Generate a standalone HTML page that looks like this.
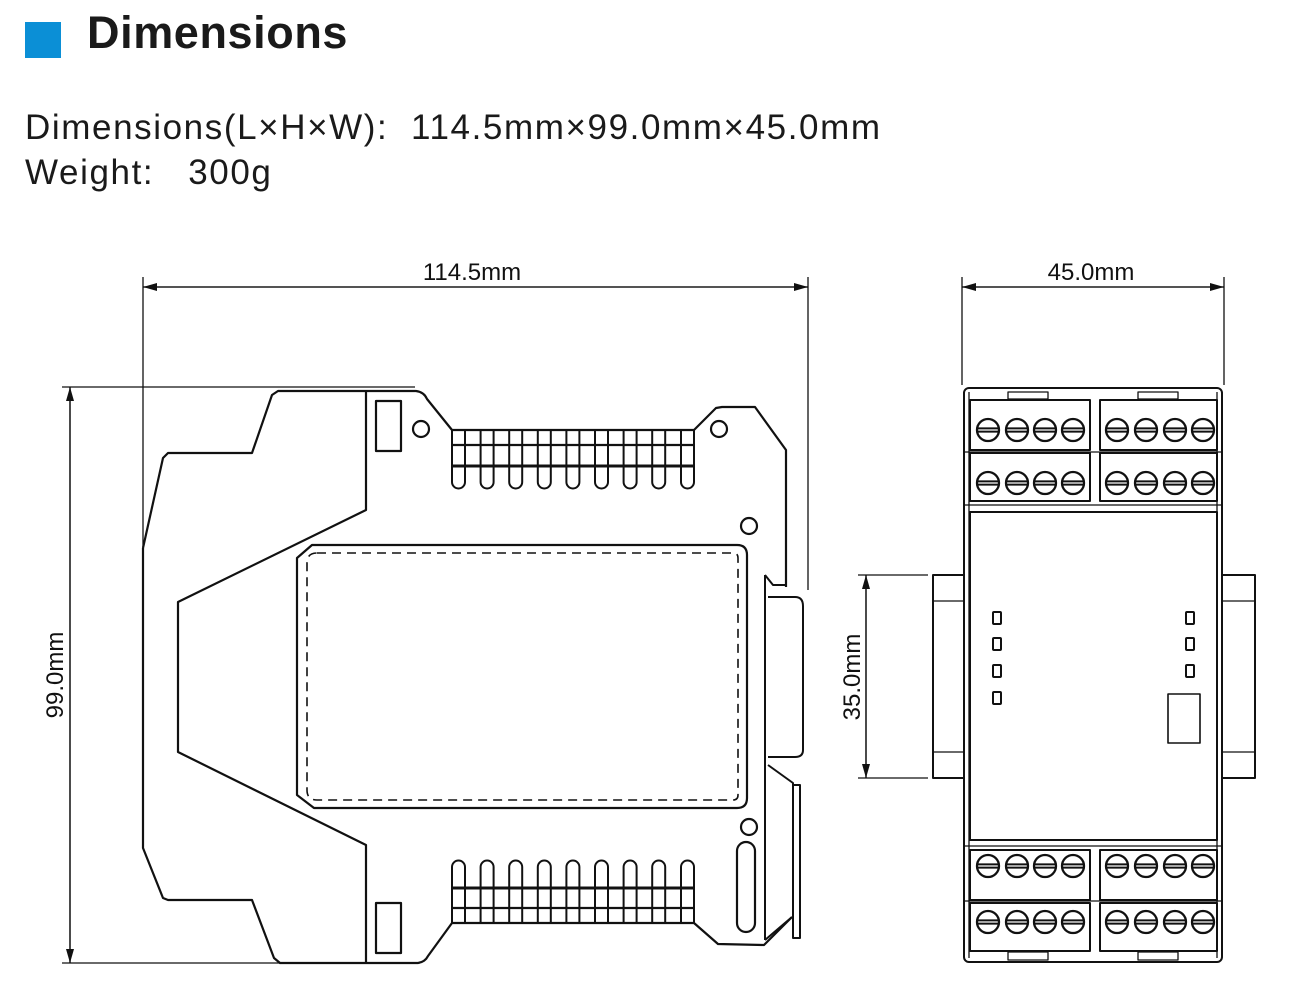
<!DOCTYPE html>
<html><head><meta charset="utf-8"><style>
html,body{margin:0;padding:0;background:#fff;}
body{width:1297px;height:999px;position:relative;overflow:hidden;font-family:"Liberation Sans",sans-serif;color:#1a1a1a;}
.sq{position:absolute;left:25px;top:22px;width:36px;height:36px;background:#0b8fd6;}
h1{position:absolute;left:87px;top:7px;margin:0;font-size:45px;font-weight:bold;letter-spacing:0.6px;}
.t{position:absolute;left:25px;font-size:35px;margin:0;white-space:pre;letter-spacing:1.6px;}
svg{position:absolute;left:0;top:0;}
</style></head><body>
<div class="sq"></div>
<h1>Dimensions</h1>
<div class="t" style="top:108px">Dimensions(L×H×W):  114.5mm×99.0mm×45.0mm</div>
<div class="t" style="top:153px">Weight:   300g</div>
<svg width="1297" height="999" viewBox="0 0 1297 999">
<defs>
<g id="sc"><circle r="11" fill="#fff" stroke="#111" stroke-width="2.3"/><line x1="-11" y1="-1.6" x2="11" y2="-1.6" stroke="#111" stroke-width="2"/><line x1="-11" y1="1.6" x2="11" y2="1.6" stroke="#111" stroke-width="2"/></g>
<path id="ft" d="M0 430 V482 a6.5 6.5 0 0 0 13 0 V430" fill="none" stroke="#111" stroke-width="2"/>
<path id="fb" d="M0 923 V867 a6.5 6.5 0 0 1 13 0 V923" fill="none" stroke="#111" stroke-width="2"/>
<marker id="ar" markerWidth="14" markerHeight="8" refX="14" refY="4" orient="auto" markerUnits="userSpaceOnUse"><path d="M0 0 L14 4 L0 8 Z" fill="#111"/></marker>
</defs>
<g stroke="#111" fill="none" stroke-width="1.3">
<line x1="143" y1="277" x2="143" y2="548"/><line x1="808" y1="277" x2="808" y2="590"/>
<line x1="143" y1="287" x2="808" y2="287" marker-end="url(#ar)"/><line x1="808" y1="287" x2="143" y2="287" marker-end="url(#ar)"/>
<line x1="62" y1="387" x2="415" y2="387"/><line x1="62" y1="963" x2="420" y2="963"/>
<line x1="70" y1="387" x2="70" y2="963" marker-end="url(#ar)"/><line x1="70" y1="963" x2="70" y2="387" marker-end="url(#ar)"/>
<line x1="962" y1="277" x2="962" y2="385"/><line x1="1224" y1="277" x2="1224" y2="385"/>
<line x1="962" y1="287" x2="1224" y2="287" marker-end="url(#ar)"/><line x1="1224" y1="287" x2="962" y2="287" marker-end="url(#ar)"/>
<line x1="858" y1="575" x2="928" y2="575"/><line x1="858" y1="778" x2="928" y2="778"/>
<line x1="866" y1="575" x2="866" y2="778" marker-end="url(#ar)"/><line x1="866" y1="778" x2="866" y2="575" marker-end="url(#ar)"/>
</g>
<g stroke="#111" fill="none" stroke-width="2.2" stroke-linejoin="round">
<path d="M143 548 L163 458 L168 453 L252 453 L272 395 L278 391 L416 391 Q424 392 427 399 L452 430 L694 430 L716 408 L722 407 L755 407 L786 450 L786 587"/>
<path d="M143 548 V848 L163 898 L168 900 L252 900 L274 958 L280 963 L418 963 Q425 962 428 956 L452 923 L694 923 L718 944 L764 945 L792 917"/>
<path d="M366 392 V510 L178 602 V752 L366 845 V963"/>
<rect x="376" y="401" width="25" height="50"/><rect x="376" y="903" width="25" height="50"/>
<circle cx="421" cy="429" r="8"/><circle cx="719" cy="429" r="8"/><circle cx="749" cy="526" r="8"/><circle cx="749" cy="827" r="8"/>
<rect x="737" y="842" width="18" height="90" rx="9"/>
<path d="M312 545 H737 Q747 545 747 555 V798 Q747 808 737 808 H314 L297 795 V558 Z"/>
<path d="M317 553 H733 Q738 553 738 558 V795 Q738 800 733 800 H317 Q307 800 307 790 V563 Q307 553 317 553 Z" stroke-width="1.6" stroke-dasharray="9 6"/>
<line x1="452" y1="445" x2="694" y2="445"/><line x1="452" y1="466" x2="694" y2="466" stroke-width="3"/>
<line x1="452" y1="908" x2="694" y2="908"/><line x1="452" y1="888" x2="694" y2="888" stroke-width="3"/>
</g>
<g fill="#fff">
<use href="#ft" x="452"/><use href="#ft" x="480.6"/><use href="#ft" x="509.2"/><use href="#ft" x="537.8"/><use href="#ft" x="566.4"/><use href="#ft" x="595"/><use href="#ft" x="623.6"/><use href="#ft" x="652.2"/><use href="#ft" x="681"/>
<use href="#fb" x="452"/><use href="#fb" x="480.6"/><use href="#fb" x="509.2"/><use href="#fb" x="537.8"/><use href="#fb" x="566.4"/><use href="#fb" x="595"/><use href="#fb" x="623.6"/><use href="#fb" x="652.2"/><use href="#fb" x="681"/>
</g>
<g stroke="#111" fill="none" stroke-width="2" stroke-linejoin="round">
<path d="M765 575 V940"/>
<path d="M765 575 L773 585 H786"/>
<path d="M768 597 H795 Q803 597 803 606 V750 Q803 757 795 757 H768"/>
<path d="M768 765 L793 783 V938 H800 V785 H793"/>
<path d="M765 940 L792 917"/>
<rect x="964" y="388" width="258" height="574" rx="5"/>
<line x1="969" y1="392" x2="969" y2="958" stroke-width="1.3"/><line x1="1217" y1="392" x2="1217" y2="958" stroke-width="1.3"/>
<rect x="970" y="512" width="247" height="328"/>
<rect x="933" y="575" width="31" height="203"/><line x1="933" y1="601" x2="964" y2="601" stroke-width="1.3"/><line x1="933" y1="752" x2="964" y2="752" stroke-width="1.3"/>
<rect x="1222" y="575" width="33" height="203"/><line x1="1222" y1="601" x2="1255" y2="601" stroke-width="1.3"/><line x1="1222" y1="752" x2="1255" y2="752" stroke-width="1.3"/>
<rect x="970" y="400" width="120" height="50"/><rect x="1100" y="400" width="117" height="50"/>
<rect x="970" y="453" width="120" height="48"/><rect x="1100" y="453" width="117" height="48"/>
<line x1="964" y1="452" x2="1222" y2="452" stroke-width="1.3"/><line x1="964" y1="505" x2="1222" y2="505" stroke-width="1.3"/>
<rect x="1008" y="392" width="40" height="7" stroke-width="1.3"/><rect x="1138" y="392" width="40" height="7" stroke-width="1.3"/>
<rect x="970" y="850" width="120" height="50"/><rect x="1100" y="850" width="117" height="50"/>
<rect x="970" y="903" width="120" height="48"/><rect x="1100" y="903" width="117" height="48"/>
<line x1="964" y1="846" x2="1222" y2="846" stroke-width="1.3"/><line x1="964" y1="901" x2="1222" y2="901" stroke-width="1.3"/>
<rect x="1008" y="952" width="40" height="8" stroke-width="1.3"/><rect x="1138" y="952" width="40" height="8" stroke-width="1.3"/>
<rect x="993" y="612" width="8" height="12" rx="1"/><rect x="993" y="638" width="8" height="12" rx="1"/><rect x="993" y="665" width="8" height="12" rx="1"/><rect x="993" y="692" width="8" height="12" rx="1"/>
<rect x="1186" y="612" width="8" height="12" rx="1"/><rect x="1186" y="638" width="8" height="12" rx="1"/><rect x="1186" y="665" width="8" height="12" rx="1"/>
<rect x="1168" y="694" width="32" height="49" stroke-width="1.6"/>
</g>
<g>
<use href="#sc" x="988" y="430"/><use href="#sc" x="1017" y="430"/><use href="#sc" x="1045" y="430"/><use href="#sc" x="1073" y="430"/>
<use href="#sc" x="1117" y="430"/><use href="#sc" x="1146" y="430"/><use href="#sc" x="1175" y="430"/><use href="#sc" x="1203" y="430"/>
<use href="#sc" x="988" y="483"/><use href="#sc" x="1017" y="483"/><use href="#sc" x="1045" y="483"/><use href="#sc" x="1073" y="483"/>
<use href="#sc" x="1117" y="483"/><use href="#sc" x="1146" y="483"/><use href="#sc" x="1175" y="483"/><use href="#sc" x="1203" y="483"/>
<use href="#sc" x="988" y="866"/><use href="#sc" x="1017" y="866"/><use href="#sc" x="1045" y="866"/><use href="#sc" x="1073" y="866"/>
<use href="#sc" x="1117" y="866"/><use href="#sc" x="1146" y="866"/><use href="#sc" x="1175" y="866"/><use href="#sc" x="1203" y="866"/>
<use href="#sc" x="988" y="922"/><use href="#sc" x="1017" y="922"/><use href="#sc" x="1045" y="922"/><use href="#sc" x="1073" y="922"/>
<use href="#sc" x="1117" y="922"/><use href="#sc" x="1146" y="922"/><use href="#sc" x="1175" y="922"/><use href="#sc" x="1203" y="922"/>
</g>
<g font-family="Liberation Sans, sans-serif" font-size="24" fill="#111" text-anchor="middle">
<text x="472" y="280">114.5mm</text>
<text x="1091" y="280">45.0mm</text>
<text transform="translate(63,675) rotate(-90)">99.0mm</text>
<text transform="translate(860,677) rotate(-90)">35.0mm</text>
</g>
</svg>
</body></html>
